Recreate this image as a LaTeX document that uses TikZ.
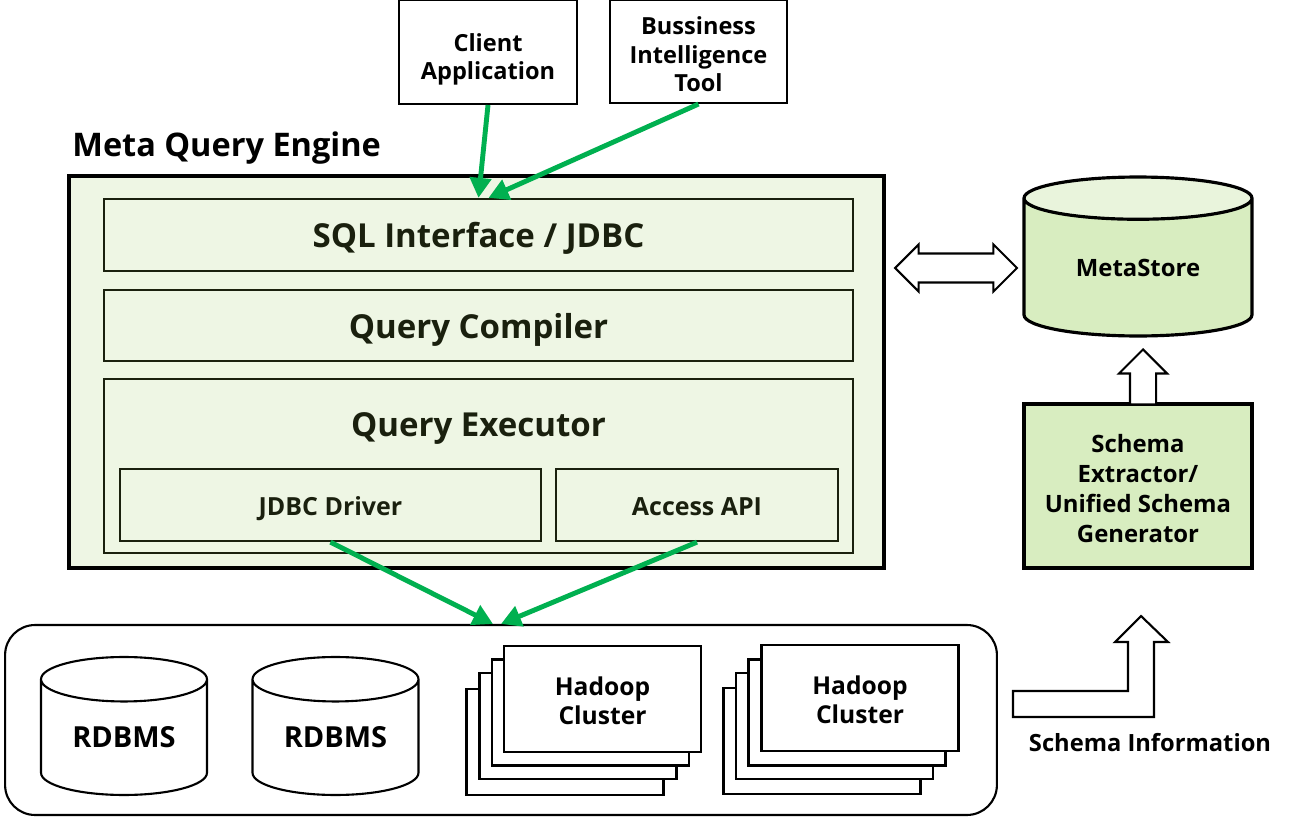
\documentclass[tikz,border=0pt]{standalone}
\usepackage{fontspec}
\setmainfont{Open Sans}
\usetikzlibrary{arrows.meta,shapes.geometric,shapes.arrows}
\definecolor{enginefill}{RGB}{238,246,228}
\definecolor{engineline}{RGB}{26,32,14}
\definecolor{storefill}{RGB}{216,237,192}
\definecolor{storetop}{RGB}{233,244,220}
\definecolor{flowgreen}{RGB}{0,176,80}

\begin{document}
\begin{tikzpicture}[x=0.02cm, y=-0.02cm,
    nodes={inner sep=0, align=center},
    box/.style={draw, line width=1.2pt, text depth=0pt, font=\bfseries\fontsize{13.4}{16.5}\selectfont},
    layer/.style={draw=engineline, line width=1.3pt, fill=enginefill, text=engineline,
        minimum width=14.98cm, text height=0.51cm, text depth=0pt, font=\bfseries\fontsize{18.8}{22}\selectfont},
    part/.style={draw=engineline, line width=1.3pt, fill=enginefill, text=engineline,
        minimum height=1.44cm, text height=0.4cm, text depth=0pt, font=\bfseries\fontsize{14.2}{17}\selectfont},
    db/.style={draw, line width=1.2pt, fill=white, cylinder, shape border rotate=90, aspect=0.43,
        anchor=shape center, minimum width=3.32cm, minimum height=2.76cm, font=\bfseries\fontsize{16.5}{19}\selectfont},
    cluster/.style={draw, line width=1.2pt, fill=white, minimum width=3.94cm, minimum height=2.12cm,
        font=\bfseries\fontsize{14}{16.5}\selectfont},
    hollow/.style={draw, line width=1.2pt, fill=white, inner xsep=0},
    flow/.style={draw=flowgreen, line width=2.8pt, -{Triangle[length=0.4cm, width=0.42cm]}}]
    \useasboundingbox (0,0) rectangle (1289,818);

    \node (cl) [box, minimum width=3.56cm, minimum height=2.08cm, text height=1.12cm]
        at (488,52) {Client\\Application};
    \node (bi) [box, minimum width=3.54cm, minimum height=2.06cm, text height=1.62cm]
        at (698.5,51.5) {Bussiness\\Intelligence\\Tool};

    \node (title) [anchor=west, font=\bfseries\fontsize{18.5}{22}\selectfont] at (72,148) {Meta Query Engine};
    \node (engine) [draw, line width=2.2pt, fill=enginefill, minimum width=16.3cm, minimum height=7.84cm] at (476.5,372) {};
    \node (sql) [layer, minimum height=1.44cm] at (478.5,235) {SQL Interface / JDBC};
    \node (qc) [layer, minimum height=1.42cm] at (478.5,325.5) {Query Compiler};
    \node (qe) [layer, minimum height=3.48cm] at (478.5,466) {};
    \node (qet) [text=engineline, text height=0.51cm, text depth=0pt, font=\bfseries\fontsize{18.8}{22}\selectfont]
        at (478.5,424) {Query Executor};
    \node (jd) [part, minimum width=8.42cm] at (330.5,505) {JDBC Driver};
    \node (api) [part, minimum width=5.64cm] at (697,505) {Access API};

    \node (ms) [db, aspect=0.34, line width=1.8pt, fill=none, minimum width=4.56cm, minimum height=3.18cm,
        cylinder uses custom fill, cylinder body fill=storefill, cylinder end fill=storetop,
        font=\bfseries\fontsize{13.6}{16.5}\selectfont] at (1138,256.5) {MetaStore};
    \node (sx) [box, line width=1.8pt, fill=storefill, minimum width=4.56cm, minimum height=3.28cm,
        font=\bfseries\fontsize{13.6}{17}\selectfont, text height=2.26cm] at (1138,486)
        {Schema\\Extractor/\\Unified Schema\\Generator};
    \node (both) [hollow, double arrow, inner ysep=0.27cm, double arrow head extend=0.18cm,
        minimum height=2.44cm] at (956,268) {};
    \node (up) [hollow, single arrow, rotate=90, anchor=tip, inner ysep=0.24cm, single arrow head extend=0.22cm,
        minimum height=1.1cm] at (1143,348) {};

    \node (src) [draw, line width=1.2pt, rounded corners=0.6cm, minimum width=19.84cm, minimum height=3.8cm] at (501,720) {};
    \node (rd1) [db] at (124,726) {RDBMS};
    \node (rd2) [db] at (335.5,726) {RDBMS};

    \node (h1d) [cluster] at (565,742) {};
    \node (h1c) [cluster] at (578,726) {};
    \node (h1b) [cluster] at (590.5,712.5) {};
    \node (h1) [cluster, text height=1cm, text depth=0pt] at (602.5,699) {Hadoop\\Cluster};
    \node (h2d) [cluster] at (822,741) {};
    \node (h2c) [cluster] at (834.5,726) {};
    \node (h2b) [cluster] at (847,712.5) {};
    \node (h2) [cluster, text height=1cm, text depth=0pt] at (860,698) {Hadoop\\Cluster};

    \draw [line width=1.2pt, fill=white] (1013,691) -- (1128,691) -- (1128,642) -- (1115,642) -- (1141,616)
        -- (1168,642) -- (1154,642) -- (1154,717) -- (1013,717) -- cycle;
    \node (info) [font=\bfseries\fontsize{13.5}{16.5}\selectfont] at (1150,743) {Schema Information};

    \path (cl.south) edge [flow] (sql.north);
    \path (bi.south) edge [flow] ([xshift=0.2cm]sql.north);
    \path (jd.south) edge [flow] ([xshift=-0.16cm]src.north);
    \path (api.south) edge [flow] (src.north);
\end{tikzpicture}
\end{document}
